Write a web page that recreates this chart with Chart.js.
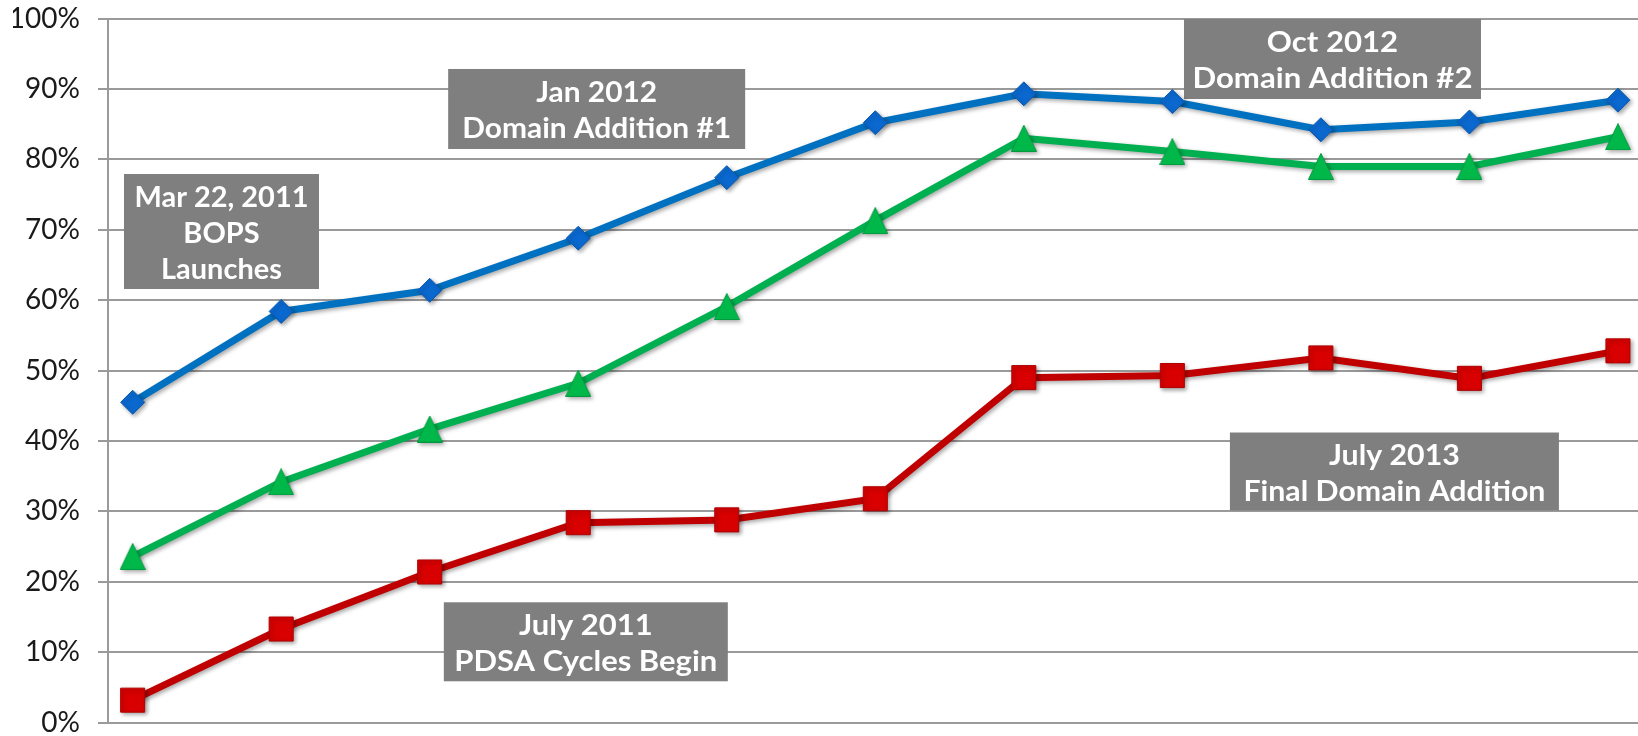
<!DOCTYPE html>
<html>
<head>
<meta charset="utf-8">
<script src="https://cdn.jsdelivr.net/npm/chart.js@4.4.0/dist/chart.umd.min.js"></script>
<style>
  html, body { margin: 0; padding: 0; background: #fff; }
  #wrap { width: 1638px; height: 736px; }
</style>
</head>
<body>
<div id="wrap"><canvas id="chart"></canvas></div>
<script>
// 11 measurement periods, no x labels shown on the original
const periods = [0, 1, 2, 3, 4, 5, 6, 7, 8, 9, 10];
const blueValues  = [45.5, 58.4, 61.4, 68.8, 77.4, 85.2, 89.3, 88.2, 84.2, 85.3, 88.4];
const greenValues = [23.6, 34.2, 41.7, 48.2, 59.1, 71.3, 83.0, 81.1, 79.0, 79.0, 83.2];
const redValues   = [3.2, 13.3, 21.4, 28.4, 28.8, 31.8, 49.0, 49.3, 51.8, 48.9, 52.8];
const yTicks = [0, 10, 20, 30, 40, 50, 60, 70, 80, 90, 100];

// callout boxes, centre given in data units (x = period, y = percent)
const notes = [
  { lines: ["Mar 22, 2011", "BOPS", "Launches"], x: 0.598, y: 69.75, w: 195, h: 115, textW: 174 },
  { lines: ["Jan 2012", "Domain Addition #1"], x: 3.124, y: 87.15, w: 297, h: 80, textW: 269 },
  { lines: ["Oct 2012", "Domain Addition #2"], x: 8.078, y: 94.25, w: 297, h: 80, textW: 280 },
  { lines: ["July 2013", "Final Domain Addition"], x: 8.495, y: 35.67, w: 329, h: 78, textW: 302 },
  { lines: ["July 2011", "PDSA Cycles Begin"], x: 3.051, y: 11.49, w: 284, h: 79, textW: 263 }
];

function toPoints(arr) {
  return arr.map((v, i) => ({ x: periods[i], y: v }));
}

function makeTriangle(fill, edge) {
  const c = document.createElement('canvas');
  c.width = 26; c.height = 27;
  const g = c.getContext('2d');
  g.beginPath();
  g.moveTo(13, 0.5); g.lineTo(25.5, 26.5); g.lineTo(0.5, 26.5); g.closePath();
  g.fillStyle = fill; g.fill();
  g.strokeStyle = edge; g.lineWidth = 1; g.stroke();
  return c;
}

const shadowPlugin = {
  id: 'shadow',
  beforeDatasetDraw(chart) {
    const ctx = chart.ctx;
    ctx.save();
    ctx.shadowColor = 'rgba(0,0,0,0.35)';
    ctx.shadowBlur = 4;
    ctx.shadowOffsetX = 2;
    ctx.shadowOffsetY = 2;
  },
  afterDatasetDraw(chart) {
    chart.ctx.restore();
  }
};

const notesPlugin = {
  id: 'notes',
  beforeDatasetsDraw(chart) {
    const ctx = chart.ctx;
    const xs = chart.scales.x, ys = chart.scales.y;
    notes.forEach(n => {
      const cx = xs.getPixelForValue(n.x);
      const cy = ys.getPixelForValue(n.y);
      ctx.save();
      ctx.fillStyle = '#7f7f7f';
      ctx.fillRect(cx - n.w / 2, cy - n.h / 2, n.w, n.h);
      ctx.font = 'bold 29px Lato';
      let widest = 0;
      n.lines.forEach(l => { widest = Math.max(widest, ctx.measureText(l).width); });
      // stretch horizontally so the widest line spans like the original
      const k = n.textW / widest;
      ctx.translate(cx, cy);
      ctx.scale(k, 1);
      ctx.fillStyle = '#ffffff';
      ctx.textAlign = 'center';
      ctx.textBaseline = 'alphabetic';
      n.lines.forEach((l, i) => {
        ctx.fillText(l, 0, (i - (n.lines.length - 1) / 2) * 36 + 11);
      });
      ctx.restore();
    });
  }
};

const chart = new Chart(document.getElementById("chart"), {
  type: "line",
  data: {
    datasets: [
      {
        label: 'Blue',
        data: toPoints(blueValues),
        borderColor: '#0070c0',
        borderWidth: 7,
        pointStyle: 'rectRot',
        pointRadius: 12,
        pointBackgroundColor: '#0a68cf',
        pointBorderColor: '#0b5aae',
        pointBorderWidth: 1
      },
      {
        label: 'Green',
        data: toPoints(greenValues),
        borderColor: '#00b050',
        borderWidth: 7,
        pointStyle: makeTriangle('#00b84a', '#009a3e'),
        pointRadius: 13
      },
      {
        label: 'Red',
        data: toPoints(redValues),
        borderColor: '#c00000',
        borderWidth: 7,
        pointStyle: 'rect',
        pointRadius: 17,
        pointBackgroundColor: '#d80000',
        pointBorderColor: '#b00000',
        pointBorderWidth: 1
      }
    ]
  },
  options: {
    animation: false,
    maintainAspectRatio: false,
    responsive: true,
    layout: { autoPadding: false, padding: { left: 13, top: 0, right: 0, bottom: 0 } },
    elements: { line: { tension: 0 } },
    plugins: {
      legend: { display: false },
      tooltip: { enabled: false }
    },
    scales: {
      x: {
        type: 'linear',
        display: false,
        min: -0.166,
        max: 10.135
      },
      y: {
        min: 0,
        max: 100,
        afterBuildTicks: s => { s.ticks = yTicks.map(v => ({ value: v })); },
        afterFit: s => {
          s.width = 95;
          s.paddingTop = 18.5;
          s.paddingBottom = 13.3;
        },
        grid: { color: '#9a9a9a', lineWidth: 2, tickLength: 10 },
        border: { color: '#9a9a9a', width: 2 },
        ticks: {
          padding: 18,
          color: '#1a1a1a',
          font: { family: 'Lato', size: 28, lineHeight: 0.9 },
          callback: v => v + '%'
        }
      }
    }
  },
  plugins: [shadowPlugin, notesPlugin]
});
</script>
</body>
</html>
